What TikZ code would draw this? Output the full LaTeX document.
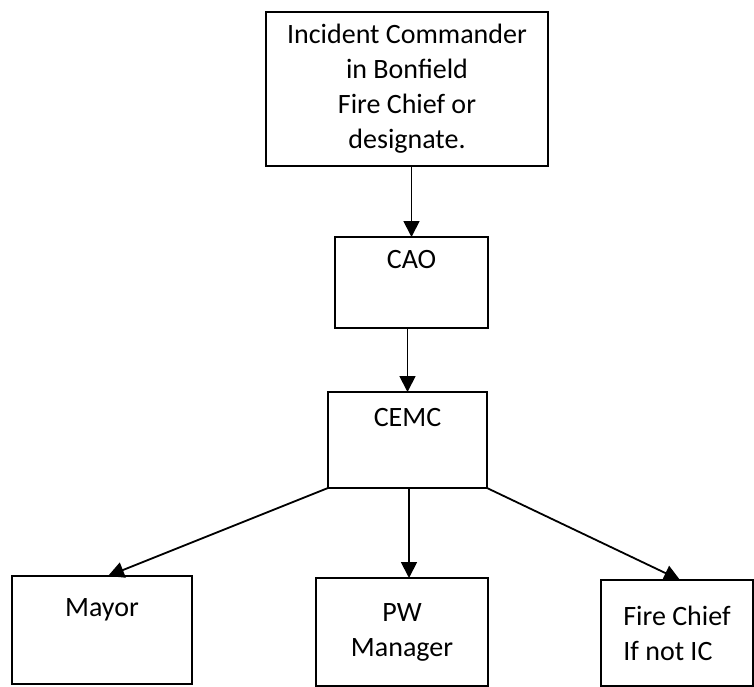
\documentclass[tikz,border=0pt]{standalone}
\usepackage{fontspec}
\setmainfont{Carlito}
\usetikzlibrary{arrows.meta,positioning}

\begin{document}
\begin{tikzpicture}[x=1pt,y=1pt,
  box/.style={draw, line width=2pt, rectangle, inner sep=0pt, outer sep=0pt, align=center,
    font=\fontsize{28}{35}\selectfont},
  arr/.style={line width=1.8pt, -{Triangle[width=16pt,length=16pt]}}]
  \useasboundingbox (0,0) rectangle (754,-686);
  \node[box, minimum width=282, minimum height=154] (ic) at (407,-89) {Incident Commander\\in Bonfield\\Fire Chief or\\designate.};
  \node[box, minimum width=153, minimum height=91] (cao) at (411.5,-282.5) {CAO\\\strut};
  \node[box, minimum width=159, minimum height=96] (cemc) at (407.5,-440) {CEMC\\\strut};
  \node[box, minimum width=180, minimum height=108] (mayor) at (102,-630) {Mayor\\\strut};
  \node[box, minimum width=172, minimum height=108] (pw) at (402,-632) {PW\\Manager};
  \node[box, minimum width=152, minimum height=106, align=left] (fire) at (677,-633) {Fire Chief\\If not IC};
  \draw[arr] (cao.north |- ic.south) -- (cao.north);
  \draw[arr] (cao.south -| cemc.north) -- (cemc.north);
  \draw[arr] (cemc.south west) -- ([xshift=6]mayor.north);
  \draw[arr] ([xshift=1.5]cemc.south) -- ([xshift=1.5]cemc.south |- pw.north);
  \draw[arr] (cemc.south east) -- ([xshift=3]fire.north);
\end{tikzpicture}
\end{document}
